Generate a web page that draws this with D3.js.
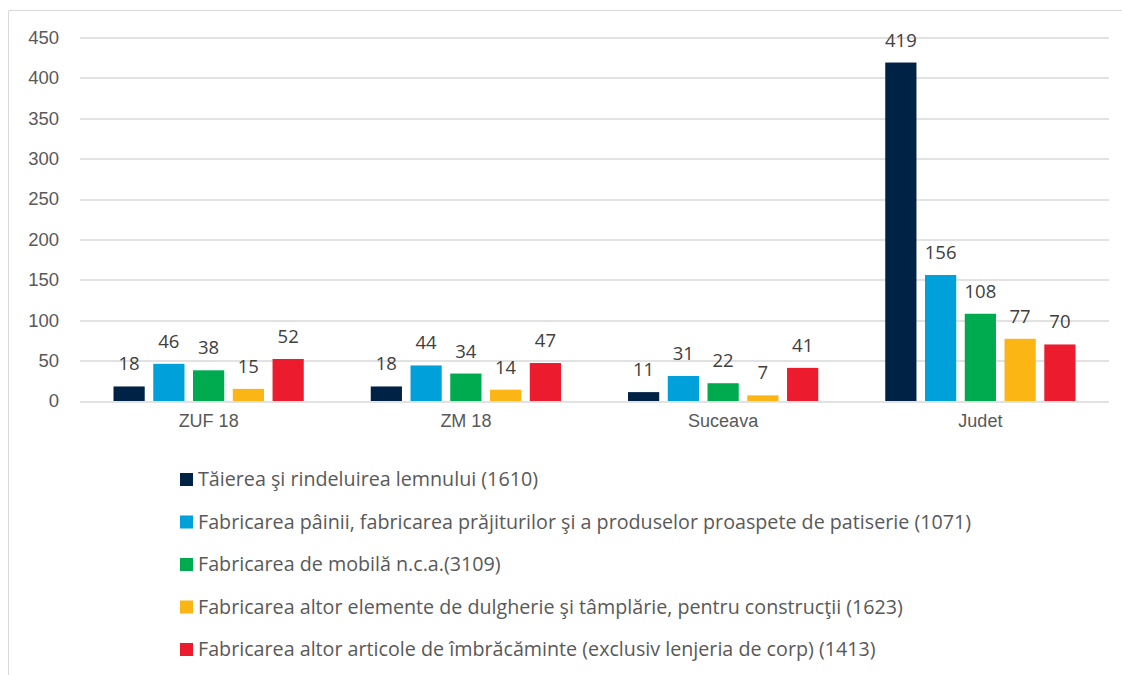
<!DOCTYPE html>
<html>
<head>
<meta charset="utf-8">
<script src="https://cdn.jsdelivr.net/npm/d3@7"></script>
<style>
  body { margin: 0; background: #fff; }
  svg { font-family: "Open Sans", "Noto Sans", sans-serif; }
</style>
</head>
<body>
<div id="chart"></div>
<script>
const categories = ['ZUF 18', 'ZM 18', 'Suceava', 'Judet'];
const seriesNames = [
    'Tăierea şi rindeluirea lemnului (1610)',
    'Fabricarea pâinii, fabricarea prăjiturilor şi a produselor proaspete de patiserie (1071)',
    'Fabricarea de mobilă n.c.a.(3109)',
    'Fabricarea altor elemente de dulgherie şi tâmplărie, pentru construcţii (1623)',
    'Fabricarea altor articole de îmbrăcăminte (exclusiv lenjeria de corp) (1413)'
];
const taiere = [18, 18, 11, 419];
const paine = [46, 44, 31, 156];
const mobila = [38, 34, 22, 108];
const dulgherie = [15, 14, 7, 77];
const imbracaminte = [52, 47, 41, 70];
const seriesValues = [taiere, paine, mobila, dulgherie, imbracaminte];
const colors = ['#002244', '#00A0DA', '#00AA4F', '#FBB615', '#EC1C2E'];
const yTicks = [0, 50, 100, 150, 200, 250, 300, 350, 400, 450];

const width = 1122, height = 675;
const margin = { top: 37.5, right: 13, bottom: 274, left: 80 };
const plotW = width - margin.left - margin.right;
const plotH = height - margin.top - margin.bottom;

const svg = d3.select("#chart")
    .append("svg")
    .attr("width", width)
    .attr("height", height);

// chart frame (left and top edges only visible)
svg.append("line").attr("x1", 8.5).attr("x2", 8.5).attr("y1", 10.5).attr("y2", height)
    .attr("stroke", "#d9d9d9");
svg.append("line").attr("x1", 8.5).attr("x2", width).attr("y1", 10.5).attr("y2", 10.5)
    .attr("stroke", "#d9d9d9");

const g = svg.append("g")
    .attr("transform", `translate(${margin.left},${margin.top})`);

const x0 = d3.scaleBand()
    .domain(categories)
    .range([0, plotW])
    .padding(0);

const groupInset = 33.5;
const x1 = d3.scaleBand()
    .domain(d3.range(seriesNames.length))
    .range([groupInset, x0.bandwidth() - groupInset])
    .paddingInner(0.215)
    .paddingOuter(0);

const y = d3.scaleLinear()
    .domain([0, 450])
    .range([plotH, 0]);

// gridlines
g.append("g")
    .selectAll("line")
    .data(yTicks)
    .enter()
    .append("line")
    .attr("x1", 0)
    .attr("x2", plotW)
    .attr("y1", d => Math.round(y(d)) + 0.5)
    .attr("y2", d => Math.round(y(d)) + 0.5)
    .attr("stroke", "#d9d9d9")
    .attr("stroke-width", 1.3);

// y axis labels
const yAxis = g.append("g")
    .call(d3.axisLeft(y).tickValues(yTicks).tickSize(0).tickPadding(21));
yAxis.select(".domain").remove();
yAxis.selectAll("text")
    .attr("fill", "#595959")
    .style("font-size", "18.5px");

// x axis labels
const xAxis = g.append("g")
    .attr("transform", `translate(0,${plotH})`)
    .call(d3.axisBottom(x0).tickSize(0).tickPadding(13));
xAxis.select(".domain").remove();
xAxis.selectAll("text")
    .attr("fill", "#595959")
    .style("font-size", "18px");

// bars
const groups = g.selectAll(".cat")
    .data(categories)
    .enter()
    .append("g")
    .attr("class", "cat")
    .attr("transform", d => `translate(${x0(d)},0)`);

groups.selectAll("rect")
    .data((d, ci) => seriesValues.map((vals, si) => ({ si, value: vals[ci] })))
    .enter()
    .append("rect")
    .attr("x", d => x1(d.si))
    .attr("width", x1.bandwidth())
    .attr("y", d => y(d.value))
    .attr("height", d => plotH - y(d.value))
    .attr("fill", d => colors[d.si]);

groups.selectAll("text.val")
    .data((d, ci) => seriesValues.map((vals, si) => ({ si, value: vals[ci] })))
    .enter()
    .append("text")
    .attr("class", "val")
    .attr("x", d => x1(d.si) + x1.bandwidth() / 2)
    .attr("y", d => y(d.value) - 16)
    .attr("text-anchor", "middle")
    .attr("fill", "#404040")
    .style("font-size", "18.5px")
    .text(d => d.value);

// legend
const legendTop = 479.5, legendStep = 42.5;
const legend = svg.append("g")
    .selectAll("g")
    .data(seriesNames)
    .enter()
    .append("g")
    .attr("transform", (d, i) => `translate(180,${legendTop + i * legendStep})`);

legend.append("rect")
    .attr("x", 0)
    .attr("y", -6.5)
    .attr("width", 13)
    .attr("height", 13)
    .attr("fill", (d, i) => colors[i]);

legend.append("text")
    .attr("x", 18)
    .attr("y", 0)
    .attr("dy", "0.35em")
    .attr("fill", "#595959")
    .style("font-size", "19.7px")
    .text(d => d);
</script>
</body>
</html>
